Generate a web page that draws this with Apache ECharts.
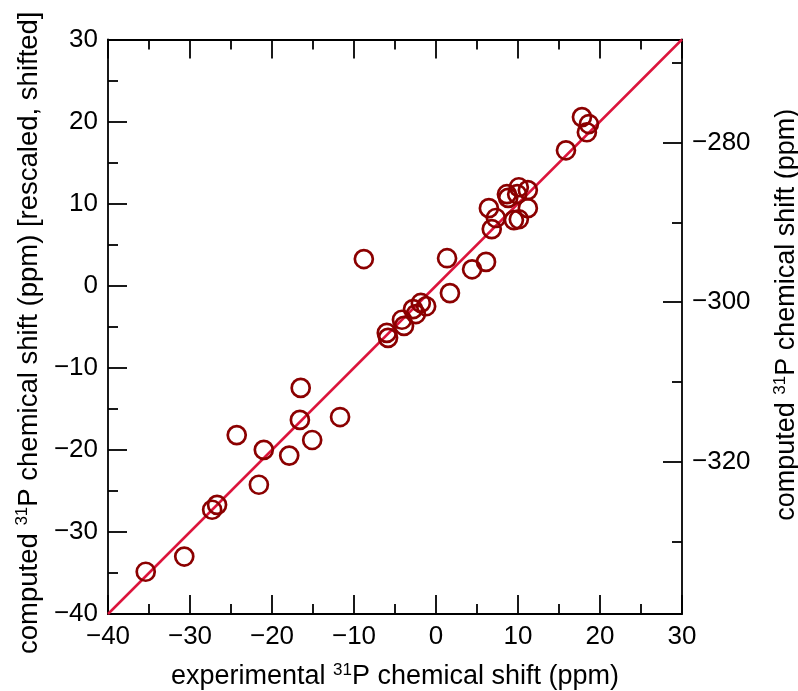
<!DOCTYPE html>
<html>
<head>
<meta charset="utf-8">
<script src="https://cdn.jsdelivr.net/npm/echarts@6/dist/echarts.min.js"></script>
<style>
html,body{margin:0;padding:0;background:#fff;}
#chart{width:798px;height:691px;}
</style>
</head>
<body>
<div id="chart"></div>
<script>
// experimental 31P shift (x) and computed, rescaled/shifted (y)
const expShift = [-35.4, -30.7, -27.3, -26.7, -24.3, -21.6, -21.0, -17.9, -16.5, -16.6, -15.1, -11.7,
  -8.8, -5.85, -6.0, -4.15, -3.9, -2.8, -2.45, -1.85, -1.2, 1.35, 1.7, 4.4, 6.1, 6.45, 6.8, 7.3,
  8.65, 8.8, 9.5, 9.9, 10.1, 10.1, 11.2, 11.2, 15.85, 17.8, 18.4, 18.65];
const compShift = [-34.85, -33.0, -27.3, -26.7, -18.2, -24.25, -20.0, -20.7, -12.45, -16.35, -18.8, -16.0,
  3.25, -6.35, -5.75, -4.15, -4.9, -2.85, -3.45, -2.1, -2.5, 3.35, -0.9, 2.0, 2.9, 9.45, 6.9, 8.25,
  11.15, 10.7, 8.0, 11.15, 12.0, 8.1, 9.45, 11.65, 16.5, 20.55, 18.7, 19.7];
// y = x reference line end points
const diagX = [-40, 30];
// axis ranges and ticks
const mainMin = -40, mainMax = 30, mainStep = 10;
const rightMin = -339.13, rightMax = -267.03;
const rightMajor = [-320, -300, -280];
const rightMinor = [-330, -310, -290, -270];

const minus = v => String(v).replace('-', '\u2212');
const FONT = '"Liberation Sans", Arial, Helvetica, sans-serif';
const AX = '#000';

const chart = echarts.init(document.getElementById('chart'), null, {renderer: 'canvas'});

const baseAxis = {
  type: 'value', min: mainMin, max: mainMax, interval: mainStep,
  axisLine: {show: true, onZero: false, lineStyle: {color: AX, width: 1.8}},
  axisTick: {show: true, inside: true, length: 19, lineStyle: {color: AX, width: 1.8}},
  minorTick: {show: true, splitNumber: 2, length: 10, lineStyle: {color: AX, width: 1.8}},
  splitLine: {show: false},
  minorSplitLine: {show: false},
  axisLabel: {fontFamily: FONT, fontSize: 26, color: '#000', margin: 10, formatter: minus}
};

const titleStyle = (pad, size) => ({
  fontFamily: FONT, fontSize: size, color: '#000', padding: pad,
  rich: {
    sup: {fontFamily: FONT, fontSize: 17, color: '#000', verticalAlign: 'top', lineHeight: 30},
    n: {fontFamily: FONT, fontSize: size, color: '#000', lineHeight: 30}
  }
});

chart.setOption({
  animation: false,
  backgroundColor: '#fff',
  grid: {left: 108, right: 116, top: 39.5, bottom: 77, containLabel: false, outerBoundsMode: 'none'},
  xAxis: [
    Object.assign({}, baseAxis, {
      position: 'bottom',
      name: '{n|experimental }{sup|31}{n|P chemical shift (ppm)}',
      nameLocation: 'middle', nameGap: 48,
      nameTextStyle: titleStyle([0, 0, 0, 0], 27)
    }),
    Object.assign({}, baseAxis, {
      position: 'top',
      axisLabel: {show: false}
    })
  ],
  yAxis: [
    Object.assign({}, baseAxis, {
      position: 'left',
      name: '{n|computed }{sup|31}{n|P chemical shift (ppm) [rescaled, shifted]}',
      nameLocation: 'middle', nameGap: 42,
      nameTextStyle: titleStyle([0, 12, 0, 0], 27.5)
    }),
    {
      type: 'value', position: 'right', min: rightMin, max: rightMax,
      axisLine: {show: true, onZero: false, lineStyle: {color: AX, width: 1.8}},
      axisTick: {show: true, inside: true, length: 19, customValues: rightMajor, lineStyle: {color: AX, width: 1.8}},
      splitLine: {show: false},
      axisLabel: {fontFamily: FONT, fontSize: 26, color: '#000', margin: 10, formatter: minus, customValues: rightMajor},
      name: '{n|computed }{sup|31}{n|P chemical shift (ppm)}',
      nameLocation: 'middle', nameGap: 90,
      nameTextStyle: titleStyle([0, 0, 0, 24], 27)
    },
    {
      type: 'value', position: 'right', offset: 0, min: rightMin, max: rightMax,
      axisLine: {show: false, onZero: false},
      axisTick: {show: true, inside: true, length: 10, customValues: rightMinor, lineStyle: {color: AX, width: 1.8}},
      splitLine: {show: false},
      axisLabel: {show: false}
    }
  ],
  series: [
    {
      type: 'line', xAxisIndex: 0, yAxisIndex: 0,
      data: diagX.map(v => [v, v]),
      showSymbol: false, symbol: 'none',
      lineStyle: {color: '#dc143c', width: 2.5},
      z: 2
    },
    {
      type: 'scatter', xAxisIndex: 0, yAxisIndex: 0,
      data: expShift.map((v, i) => [v, compShift[i]]),
      symbol: 'circle', symbolSize: 18,
      itemStyle: {color: 'rgba(0,0,0,0)', borderColor: '#8b0000', borderWidth: 2.7, opacity: 1},
      emphasis: {disabled: true},
      z: 3
    }
  ]
});
</script>
</body>
</html>
